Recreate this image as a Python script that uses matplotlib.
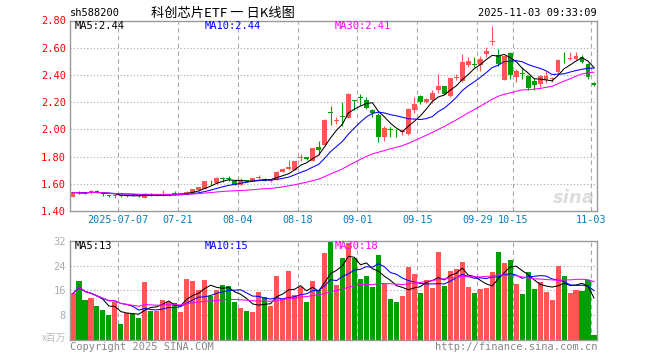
import matplotlib.pyplot as plt
import numpy as np
import pandas as pd

# daily K-line of sh588200, 2025-06-25 .. 2025-11-03 (88 trading days)
opens = [1.502, 1.535, 1.534, 1.530, 1.549, 1.535, 1.518, 1.508, 1.514, 1.510,
         1.518, 1.516, 1.495, 1.526, 1.514, 1.515, 1.517, 1.530, 1.525, 1.524,
         1.532, 1.554, 1.565, 1.620, 1.605, 1.637, 1.636, 1.622, 1.593, 1.625,
         1.622, 1.645, 1.635, 1.620, 1.635, 1.690, 1.710, 1.703, 1.790, 1.799,
         1.769, 1.870, 1.887, 2.125, 2.060, 2.095, 2.083, 2.212, 2.232, 2.218,
         2.144, 2.105, 1.943, 2.000, 1.980, 1.980, 1.968, 2.139, 2.247, 2.203,
         2.218, 2.290, 2.316, 2.242, 2.380, 2.352, 2.470, 2.478, 2.475, 2.555,
         2.640, 2.544, 2.365, 2.561, 2.385, 2.410, 2.394, 2.357, 2.333, 2.360,
         2.370, 2.418, 2.570, 2.520, 2.517, 2.530, 2.480, 2.341]
highs = [1.540, 1.545, 1.540, 1.552, 1.551, 1.537, 1.520, 1.525, 1.520, 1.520,
         1.524, 1.520, 1.530, 1.530, 1.526, 1.552, 1.528, 1.550, 1.535, 1.550,
         1.565, 1.580, 1.620, 1.625, 1.650, 1.651, 1.660, 1.625, 1.645, 1.630,
         1.645, 1.666, 1.640, 1.635, 1.692, 1.715, 1.776, 1.768, 1.818, 1.800,
         1.865, 1.911, 2.075, 2.168, 2.090, 2.201, 2.265, 2.215, 2.262, 2.235,
         2.150, 2.120, 2.027, 2.017, 2.004, 2.002, 2.160, 2.235, 2.250, 2.230,
         2.286, 2.409, 2.320, 2.380, 2.405, 2.554, 2.530, 2.532, 2.540, 2.602,
         2.762, 2.592, 2.540, 2.570, 2.440, 2.460, 2.400, 2.380, 2.400, 2.431,
         2.385, 2.520, 2.572, 2.568, 2.568, 2.550, 2.490, 2.345]
lows = [1.500, 1.522, 1.525, 1.528, 1.530, 1.510, 1.505, 1.498, 1.500, 1.505,
        1.508, 1.503, 1.492, 1.510, 1.510, 1.512, 1.512, 1.520, 1.520, 1.520,
        1.530, 1.550, 1.560, 1.590, 1.600, 1.610, 1.617, 1.590, 1.590, 1.610,
        1.618, 1.635, 1.620, 1.615, 1.630, 1.685, 1.703, 1.700, 1.769, 1.775,
        1.765, 1.813, 1.880, 2.034, 2.041, 2.021, 2.080, 2.139, 2.181, 2.150,
        2.090, 1.904, 1.918, 1.943, 1.943, 1.960, 1.955, 2.120, 2.190, 2.195,
        2.193, 2.270, 2.250, 2.235, 2.360, 2.345, 2.460, 2.460, 2.430, 2.535,
        2.617, 2.465, 2.360, 2.370, 2.350, 2.370, 2.290, 2.290, 2.310, 2.340,
        2.345, 2.410, 2.490, 2.510, 2.510, 2.490, 2.370, 2.320]
closes = [1.536, 1.532, 1.530, 1.549, 1.536, 1.522, 1.512, 1.511, 1.508, 1.514,
          1.515, 1.510, 1.526, 1.514, 1.518, 1.520, 1.524, 1.527, 1.530, 1.543,
          1.561, 1.576, 1.617, 1.617, 1.646, 1.635, 1.633, 1.593, 1.617, 1.617,
          1.639, 1.649, 1.624, 1.624, 1.688, 1.710, 1.723, 1.764, 1.795, 1.779,
          1.862, 1.850, 2.071, 2.120, 2.063, 2.090, 2.262, 2.210, 2.230, 2.157,
          2.120, 1.943, 2.009, 1.997, 1.977, 1.985, 2.151, 2.186, 2.198, 2.225,
          2.264, 2.316, 2.260, 2.374, 2.385, 2.492, 2.504, 2.475, 2.519, 2.573,
          2.646, 2.480, 2.536, 2.401, 2.426, 2.405, 2.304, 2.323, 2.389, 2.394,
          2.372, 2.507, 2.565, 2.525, 2.541, 2.492, 2.385, 2.325]
# volume in millions
volumes = [15.0, 19.0, 12.9, 13.4, 10.8, 9.6, 7.9, 12.4, 5.0, 8.6,
           8.5, 7.2, 18.7, 9.5, 9.5, 12.8, 12.4, 11.8, 8.9, 19.6,
           19.0, 16.2, 19.3, 14.1, 16.2, 17.6, 17.3, 12.4, 10.2, 9.3,
           8.9, 15.4, 13.7, 11.1, 20.6, 13.2, 22.2, 14.6, 17.0, 12.2,
           18.9, 16.0, 28.1, 31.6, 17.6, 26.4, 31.2, 26.4, 19.6, 20.6,
           17.0, 27.4, 18.1, 13.1, 12.1, 14.1, 23.5, 21.2, 15.0, 19.3,
           16.8, 28.3, 17.3, 22.3, 22.8, 25.2, 17.0, 15.0, 16.3, 16.9,
           21.9, 28.4, 24.8, 25.7, 18.2, 14.7, 21.9, 16.4, 18.6, 15.4,
           13.0, 23.9, 20.6, 15.0, 16.1, 15.7, 19.3, 1.5]

tick_pos = [8, 18, 28, 38, 48, 58, 68, 74, 87]
tick_labels = ['2025-07-07', '07-21', '08-04', '08-18', '09-01', '09-15',
               '09-29', '10-15', '11-03']
price_ma_labels = ['MA5:2.44', 'MA10:2.44', 'MA30:2.41']
vol_ma_labels = ['MA5:13', 'MA10:15', 'MA30:18']

RED = '#ff5555'
GREEN = '#00a000'
MA_COLORS = ['black', '#0000ff', '#ff00ff']
MONO = 'DejaVu Sans Mono'
CJK = ['Noto Sans CJK SC', 'DejaVu Sans']

df = pd.DataFrame({'o': opens, 'h': highs, 'l': lows, 'c': closes, 'v': volumes})
x = np.arange(len(df))
colors = np.where(df.c >= df.o, RED, GREEN)

W, H = 660, 360
fig = plt.figure(figsize=(6.6, 3.6), dpi=100)
ax = fig.add_axes([70 / W, 149 / H, 527 / W, 190.5 / H])
axv = fig.add_axes([70 / W, 20 / H, 527 / W, 99.3 / H])

# price panel
ax.vlines(x, df.l, df.h, colors=colors, lw=0.8, zorder=3)
body = np.maximum((df.c - df.o).abs(), 0.006)
ax.bar(x, body, bottom=np.minimum(df.o, df.c), width=0.8, color=colors, lw=0, zorder=3)
for n, col in zip([5, 10, 30], MA_COLORS):
    ax.plot(x, df.c.rolling(n, min_periods=1).mean(), color=col, lw=0.75, zorder=4)
ax.set_xlim(-0.5, len(df) - 0.5)
ax.set_ylim(1.40, 2.80)
yt = np.round(np.arange(1.40, 2.81, 0.20), 2)
ax.set_yticks(yt)
ax.set_yticklabels(['%.2f' % v for v in yt])
ax.tick_params(axis='y', length=0, pad=3, labelsize=7.5, labelcolor='#ff0000')
ax.set_xticks(np.array(tick_pos) - 0.5)
ax.set_xticklabels(tick_labels)
ax.tick_params(axis='x', length=0, pad=3, labelsize=7.3, labelcolor='#0080c0')
for t in ax.get_xticklabels() + ax.get_yticklabels():
    t.set_family(MONO)
for v in yt[1:-1]:
    ax.axhline(v, color='#aaaaaa', lw=0.8, ls=(0, (1, 2)), zorder=1)
ax.text(0.995, 0.02, 'sina', transform=ax.transAxes, ha='right', va='bottom',
        fontsize=13, fontweight='bold', style='italic', color='#dddddd', zorder=0)

# volume panel
axv.bar(x, df.v, width=0.85, color=colors, lw=0, zorder=2)
for n, col in zip([5, 10, 30], MA_COLORS):
    axv.plot(x, df.v.rolling(n, min_periods=1).mean(), color=col, lw=0.75, zorder=4)
axv.set_xlim(-0.5, len(df) - 0.5)
axv.set_ylim(0, 32)
axv.set_yticks([8, 16, 24, 32])
axv.set_yticklabels(['8', '16', '24', '32'])
axv.tick_params(axis='y', length=0, pad=3, labelsize=7.5, labelcolor='#aaaaaa')
axv.set_xticks([])
for t in axv.get_yticklabels():
    t.set_family(MONO)
for v in [8, 16, 24]:
    axv.axhline(v, color='#aaaaaa', lw=0.8, ls=(0, (1, 2)), zorder=1)

for a in (ax, axv):
    for p in tick_pos:
        a.axvline(p - 0.5, color='#aaaaaa', lw=0.8, ls=(0, (4, 3)), zorder=1)
    for s in a.spines.values():
        s.set_color('#999999')
        s.set_linewidth(1)

# texts
def ftext(px, py, s, **kw):
    fig.text(px / W, 1 - py / H, s, va='center', **kw)

ftext(70, 13, 'sh588200', ha='left', fontsize=7.5, family=MONO)
ftext(223, 13, '科创芯片ETF 一 日K线图', ha='center', fontsize=9.5, family=CJK)
ftext(597, 13, '2025-11-03 09:33:09', ha='right', fontsize=7.5, family=MONO)
for lab, px, col in zip(price_ma_labels, [75, 205, 335], MA_COLORS):
    ftext(px, 26, lab, ha='left', fontsize=7.5, family=MONO, color=col)
for lab, px, col in zip(vol_ma_labels, [75, 205, 335], MA_COLORS):
    ftext(px, 246, lab, ha='left', fontsize=7.5, family=MONO, color=col)
ftext(66, 338, 'x百万', ha='right', fontsize=7, family=CJK, color='#bbbbbb')
ftext(70, 347, 'Copyright 2025 SINA.COM', ha='left', fontsize=7.5, family=MONO, color='#888888')
ftext(597, 347, 'http://finance.sina.com.cn', ha='right', fontsize=7.5, family=MONO, color='#888888')

fig.savefig('out.png', dpi=100)
